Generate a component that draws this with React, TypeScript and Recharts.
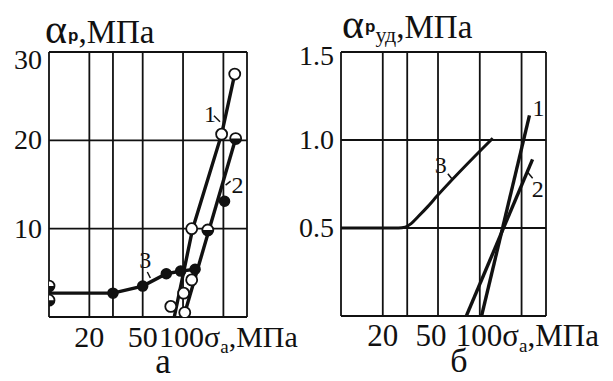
import React from "react";
import { LineChart, Line, XAxis, YAxis, CartesianGrid, ReferenceDot } from "recharts";

const serif = "'Liberation Serif', 'Times New Roman', serif";
const ink = "#111";

// shared axes
const xTicks = [10, 20, 30, 50, 100, 200, 300];
const xLabels = [20, 50, 100];
const yTicksA = [0, 10, 20, 30];
const yTicksB = [0, 0.5, 1.0, 1.5];

// panel a: lines
const a1X = [86, 118, 194, 243];
const a1Y = [0, 10, 20.7, 27.5];
const a2X = [101, 247];
const a2Y = [0, 20.2];
const a3X = [10, 30, 50, 75, 96, 123];
const a3Y = [2.7, 2.7, 3.5, 4.9, 5.2, 5.4];

// panel a: measured points
const aOpenX = [243, 194, 116, 116, 101, 103, 81];
const aOpenY = [27.5, 20.7, 10, 4.2, 2.7, 0.5, 1.2];
const aFilledX = [30, 50, 75, 96, 123, 204];
const aFilledY = [2.7, 3.5, 4.9, 5.2, 5.4, 13.1];
const aHalfX = [10, 10, 153, 247];
const aHalfY = [3.5, 1.9, 9.85, 20.2];

// panel b: lines
const b1X = [103, 228];
const b1Y = [0, 1.14];
const b2X = [80, 240];
const b2Y = [0, 0.89];
const b3X = [10, 26, 29, 32, 36, 42, 49, 124];
const b3Y = [0.5, 0.5, 0.505, 0.525, 0.565, 0.62, 0.68, 1.01];

const toPts = (xs: number[], ys: number[]) => xs.map((x, i) => ({ x, y: ys[i] }));

// curve numbers: anchor in data units, text/mark offsets in px
const annA = [
  { t: "1", x: 202, y: 22.1, dx: -20, dy: 0, m: [-10, -6, -4, 0] },
  { t: "2", x: 194, y: 14.7, dx: 10, dy: 6, m: [4, -2, 9, -6] },
  { t: "3", x: 58, y: 3.96, dx: -12, dy: -14, m: [-4, -10, -1, -4] },
];
const annB = [
  { t: "1", x: 228, y: 1.14, dx: 3, dy: 1, m: null },
  { t: "2", x: 214, y: 0.8, dx: 6, dy: 22, m: [2, -3, 7, 3] },
  { t: "3", x: 62.9, y: 0.78, dx: -17, dy: -6, m: [-4, -5, 0, 0] },
];

const Marker = (props: any) => {
  const { cx, cy, kind, index } = props;
  if (cx == null || cy == null) return <g key={index} />;
  const r = 5.5;
  if (kind === "f")
    return <circle key={index} cx={cx} cy={cy} r={5} fill={ink} stroke={ink} strokeWidth={1.5} />;
  if (kind === "h")
    return (
      <g key={index}>
        <circle cx={cx} cy={cy} r={r} fill="#fff" stroke={ink} strokeWidth={1.8} />
        <path d={`M ${cx - r} ${cy} A ${r} ${r} 0 0 0 ${cx + r} ${cy} Z`} fill={ink} />
      </g>
    );
  return <circle key={index} cx={cx} cy={cy} r={r} fill="#fff" stroke={ink} strokeWidth={1.8} />;
};

const XTick = ({ x, y, payload, shift, fs }: any) => {
  const v = payload.value;
  if (!xLabels.includes(v)) return <g />;
  if (v === 100)
    return (
      <text x={x - 24} y={y + 30} fontSize={fs} fontFamily={serif} fill={ink}>
        100σ<tspan fontSize={19} dy={6}>a</tspan>
        <tspan dy={-6}>,МПа</tspan>
      </text>
    );
  return (
    <text x={x + (shift?.[v] ?? 0)} y={y + 30} textAnchor="middle" fontSize={fs} fontFamily={serif} fill={ink}>
      {v}
    </text>
  );
};

const YTick = ({ x, y, payload, top, topDy, digits }: any) => {
  const v = payload.value;
  if (v === 0) return <g />;
  return (
    <text x={x - 7} y={y + (v === top ? topDy : 9)} textAnchor="end" fontSize={28} fontFamily={serif} fill={ink}>
      {v.toFixed(digits)}
    </text>
  );
};

const Ann = ({ cx, cy, a }: any) => {
  if (cx == null || cy == null) return <g />;
  return (
    <g>
      <text x={cx + a.dx} y={cy + a.dy} fontSize={24} fontFamily={serif} fill={ink}>
        {a.t}
      </text>
      {a.m && (
        <line x1={cx + a.m[0]} y1={cy + a.m[1]} x2={cx + a.m[2]} y2={cy + a.m[3]} stroke={ink} strokeWidth={1.5} />
      )}
    </g>
  );
};

const lineProps = {
  dataKey: "y",
  stroke: ink,
  strokeWidth: 3.4,
  dot: false,
  activeDot: false,
  isAnimationActive: false,
  type: "linear" as const,
};

const markerLine = (xs: number[], ys: number[], kind: string, key: string) => (
  <Line
    key={key}
    data={toPts(xs, ys)}
    dataKey="y"
    stroke="none"
    isAnimationActive={false}
    activeDot={false}
    dot={(p: any) => <Marker {...p} key={p.index} kind={kind} />}
  />
);

const Panel = ({ children, yTicks, yMax, top, topDy, digits, width, left, plotW, xH, xShift, fs }: any) => (
  <LineChart width={width} height={381} margin={{ top: 52, right: width - left - plotW, bottom: 0, left: 0 }}>
    <CartesianGrid stroke={ink} strokeWidth={1.8} strokeOpacity={1} />
    <XAxis
      type="number"
      dataKey="x"
      scale="log"
      domain={[10, 300]}
      ticks={xTicks}
      allowDataOverflow
      axisLine={false}
      tickLine={false}
      tickSize={0}
      tickMargin={0}
      height={xH}
      interval={0}
      tick={<XTick shift={xShift} fs={fs} />}
    />
    <YAxis
      type="number"
      domain={[0, yMax]}
      ticks={yTicks}
      allowDataOverflow
      axisLine={false}
      tickLine={false}
      tickSize={0}
      tickMargin={0}
      width={left}
      interval={0}
      tick={<YTick top={top} topDy={topDy} digits={digits} />}
    />
    {children}
  </LineChart>
);

export default function App() {
  return (
    <div style={{ position: "absolute", left: 0, top: 0, width: 613, height: 381, background: "#fff", overflow: "hidden" }}>
      <div style={{ position: "absolute", left: 0, top: 0 }}>
        <Panel yTicks={yTicksA} yMax={30} top={30} topDy={17} digits={0} width={300} left={49} plotW={198} xH={64} fs={30}>
          <Line {...lineProps} data={toPts(a3X, a3Y)} />
          <Line {...lineProps} data={toPts(a1X, a1Y)} />
          <Line {...lineProps} data={toPts(a2X, a2Y)} />
          {markerLine(aFilledX, aFilledY, "f", "mf")}
          {markerLine(aHalfX, aHalfY, "h", "mh")}
          {markerLine(aOpenX, aOpenY, "o", "mo")}
          {annA.map((a) => (
            <ReferenceDot key={"a" + a.t} x={a.x} y={a.y} r={0} ifOverflow="visible" shape={(p: any) => <Ann cx={p.cx} cy={p.cy} a={a} />} />
          ))}
        </Panel>
      </div>
      <div style={{ position: "absolute", left: 290, top: 0 }}>
        <Panel yTicks={yTicksB} yMax={1.5} top={1.5} topDy={13} digits={1} width={323} left={51} plotW={205} xH={65} fs={31} xShift={{ 50: -7 }}>
          <Line {...lineProps} strokeWidth={3} type="monotone" data={toPts(b3X, b3Y)} />
          <Line {...lineProps} data={toPts(b1X, b1Y)} />
          <Line {...lineProps} data={toPts(b2X, b2Y)} />
          {annB.map((a) => (
            <ReferenceDot key={"b" + a.t} x={a.x} y={a.y} r={0} ifOverflow="visible" shape={(p: any) => <Ann cx={p.cx} cy={p.cy} a={a} />} />
          ))}
        </Panel>
      </div>
      <svg width={613} height={381} style={{ position: "absolute", left: 0, top: 0, pointerEvents: "none" }}>
        <text x={45} y={43} fontFamily={serif} fill={ink}>
          <tspan fontSize={42}>α</tspan>
          <tspan fontSize={17} fontWeight="bold" fontFamily="'Liberation Sans', Arial, sans-serif" dx={1} dy={-2}>р</tspan>
          <tspan fontSize={33} dy={2}>,МПа</tspan>
        </text>
        <text x={342} y={38} fontFamily={serif} fill={ink}>
          <tspan fontSize={42}>α</tspan>
          <tspan fontSize={17} fontWeight="bold" fontFamily="'Liberation Sans', Arial, sans-serif" dx={1} dy={-6}>р</tspan>
          <tspan fontSize={22} dy={10}>уд</tspan>
          <tspan fontSize={33} dy={-4}>,МПа</tspan>
        </text>
        <text x={163} y={373} textAnchor="middle" fontSize={35} fontFamily={serif} fill={ink}>а</text>
        <text x={459} y={372} textAnchor="middle" fontSize={34} fontFamily={serif} fill={ink}>б</text>
      </svg>
    </div>
  );
}
